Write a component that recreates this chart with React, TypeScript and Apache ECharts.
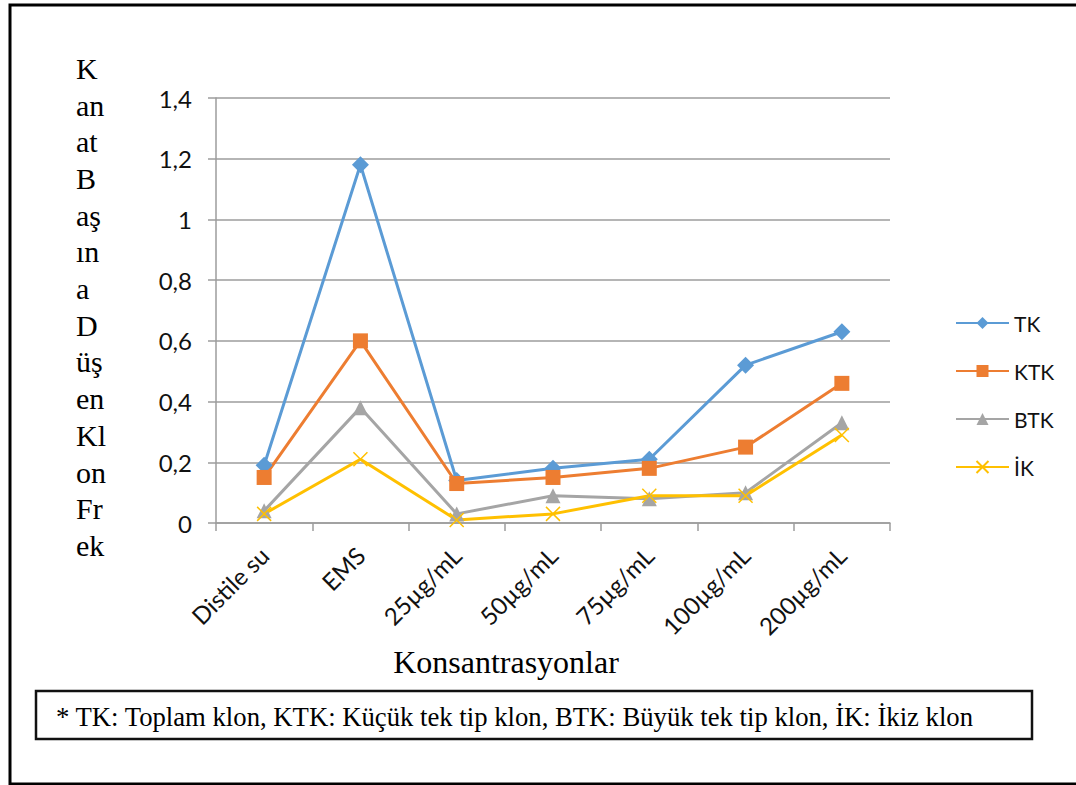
import React, { useEffect, useRef } from "react";
import * as echarts from "echarts";

const categories = ["Distile su", "EMS", "25µg/mL", "50µg/mL", "75µg/mL", "100µg/mL", "200µg/mL"];
const tk = [0.19, 1.18, 0.14, 0.18, 0.21, 0.52, 0.63];
const ktk = [0.15, 0.6, 0.13, 0.15, 0.18, 0.25, 0.46];
const btk = [0.04, 0.38, 0.03, 0.09, 0.08, 0.1, 0.33];
const ik = [0.03, 0.21, 0.01, 0.03, 0.09, 0.09, 0.29];
const seriesNames = ["TK", "KTK", "BTK", "İK"];
const colors = ["#5B9BD5", "#ED7D31", "#A5A5A5", "#FFC000"];
const yTitleLines = ["K", "an", "at", "B", "aş", "ın", "a", "D", "üş", "en", "Kl", "on", "Fr", "ek"];
const xTitle = "Konsantrasyonlar";
const footnote = "* TK: Toplam klon, KTK: Küçük tek tip klon, BTK: Büyük tek tip klon, İK: İkiz klon";

const SANS = "Lato";
const SERIF = "Liberation Serif";

export default function App() {
  const ref = useRef<HTMLDivElement>(null);

  useEffect(() => {
    if (!ref.current) return;
    const chart = echarts.init(ref.current, undefined, { renderer: "svg" });

    const mk = (name: string, data: number[], color: string, symbol: string, size: number, extra: any = {}) => ({
      name,
      type: "line",
      data,
      symbol,
      symbolSize: size,
      showSymbol: true,
      lineStyle: { color, width: 3 },
      itemStyle: { color, ...extra },
      emphasis: { disabled: true },
    });

    chart.setOption({
      animation: false,
      backgroundColor: "#ffffff",
      grid: { left: 216, right: 186, top: 98, bottom: 262, containLabel: false },
      legend: {
        orient: "vertical",
        left: 955,
        top: 312,
        padding: 0,
        itemWidth: 53,
        itemHeight: 15,
        itemGap: 26,
        data: seriesNames,
        textStyle: { fontFamily: SANS, fontSize: 21, color: "#111", lineHeight: 22 },
      },
      xAxis: {
        type: "category",
        data: categories,
        boundaryGap: true,
        axisLine: { show: true, lineStyle: { color: "#9d9d9d", width: 1.5 } },
        axisTick: { show: true, length: 8, alignWithLabel: false, lineStyle: { color: "#9d9d9d", width: 1.5 } },
        axisLabel: {
          rotate: 45,
          interval: 0,
          margin: 28,
          fontFamily: SANS,
          fontSize: 24,
          color: "#111",
        },
      },
      yAxis: {
        type: "value",
        min: 0,
        max: 1.4,
        interval: 0.2,
        axisLine: { show: true, lineStyle: { color: "#9d9d9d", width: 1.5 } },
        axisTick: { show: true, length: 8, inside: false, lineStyle: { color: "#9d9d9d", width: 1.5 } },
        splitLine: { show: true, lineStyle: { color: "#9d9d9d", width: 1.5 } },
        axisLabel: {
          margin: 24,
          fontFamily: SANS,
          fontSize: 24,
          color: "#111",
          formatter: (v: number) => String(Math.round(v * 10) / 10).replace(".", ","),
        },
      },
      series: [
        mk(seriesNames[0], tk, colors[0], "diamond", 17),
        mk(seriesNames[1], ktk, colors[1], "rect", 15),
        mk(seriesNames[2], btk, colors[2], "triangle", 15),
        mk(seriesNames[3], ik, colors[3], "path://M0 0L10 10M10 0L0 10", 14, {
          borderColor: colors[3],
          borderWidth: 1.5,
        }),
      ],
      graphic: [
        {
          type: "rect",
          shape: { x: 10, y: 5, width: 1090, height: 779 },
          style: { fill: "none", stroke: "#000", lineWidth: 3 },
          silent: true,
        },
        {
          type: "rect",
          shape: { x: 36, y: 691, width: 996, height: 48 },
          style: { fill: "#fff", stroke: "#111", lineWidth: 2.5 },
          silent: true,
        },
        {
          type: "text",
          x: 56,
          y: 717,
          style: {
            text: footnote,
            fontFamily: SERIF,
            fontSize: 26.7,
            fill: "#000",
            verticalAlign: "middle",
          },
          silent: true,
        },
        {
          type: "text",
          x: 76,
          y: 50,
          style: {
            text: yTitleLines.join("\n"),
            fontFamily: SERIF,
            fontSize: 30,
            lineHeight: 36.7,
            fill: "#000",
          },
          silent: true,
        },
        {
          type: "text",
          x: 506,
          y: 662,
          style: {
            text: xTitle,
            fontFamily: SERIF,
            fontSize: 32,
            fill: "#000",
            align: "center",
            verticalAlign: "middle",
          },
          silent: true,
        },
      ],
    });

    return () => chart.dispose();
  }, []);

  return (
    <div
      ref={ref}
      style={{ position: "absolute", left: 0, top: 0, width: 1076, height: 785 }}
    />
  );
}
